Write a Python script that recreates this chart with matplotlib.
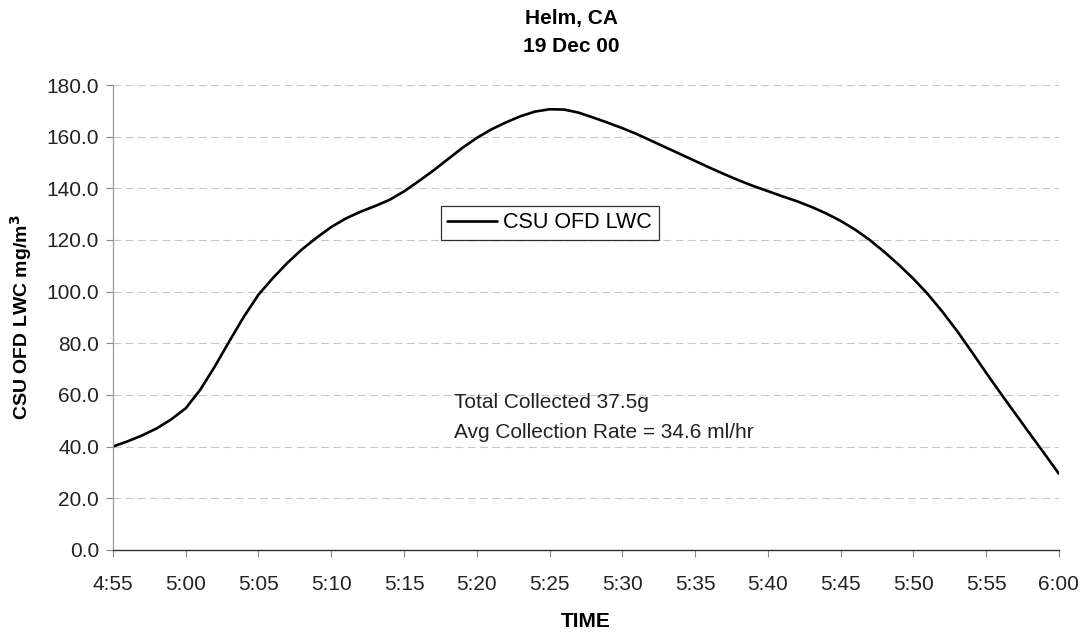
import matplotlib
matplotlib.use("Agg")
import matplotlib.pyplot as plt
import matplotlib.dates as mdates
import pandas as pd

plt.rcParams["font.family"] = ["Liberation Sans", "DejaVu Sans"]

# One-minute liquid water content readings, 4:55 to 6:00
times = pd.date_range("2000-12-19 04:55", "2000-12-19 06:00", freq="1min")
lwc = [
    40.0, 42.0, 44.3, 47.0, 50.5,
    54.8, 62.0, 71.0, 80.8, 90.3,
    98.8, 105.3, 111.2, 116.4, 120.9,
    125.0, 128.3, 130.9, 133.1, 135.5,
    138.8, 142.7, 146.8, 151.2, 155.6,
    159.5, 162.8, 165.5, 167.9, 169.7,
    170.6, 170.5, 169.3, 167.4, 165.4,
    163.3, 161.0, 158.4, 155.8, 153.2,
    150.6, 148.0, 145.5, 143.1, 140.9,
    138.9, 136.9, 135.0, 132.8, 130.3,
    127.4, 124.0, 120.0, 115.4, 110.4,
    105.0, 99.0, 92.2, 84.8, 76.8,
    68.6, 60.6, 52.8, 45.0, 37.3,
    29.5,
]
series_name = "CSU OFD LWC"
title_lines = ["Helm, CA", "19 Dec 00"]
note_lines = ["Total Collected 37.5g", "Avg Collection Rate = 34.6 ml/hr"]
note_time = pd.Timestamp("2000-12-19 05:18:25")
y_ticks = [0, 20, 40, 60, 80, 100, 120, 140, 160, 180]

fig = plt.figure(figsize=(10.86, 6.32), dpi=100)
ax = fig.add_axes([0.104, 0.130, 0.871, 0.7355])

ax.plot(times, lwc, color="black", linewidth=1.9, label=series_name,
        solid_capstyle="round", solid_joinstyle="round")

ax.set_xlim(times[0], times[-1])
ax.set_ylim(0, 180)
ax.set_yticks(y_ticks)
ax.yaxis.set_major_formatter(matplotlib.ticker.FormatStrFormatter("%.1f"))
ax.xaxis.set_major_locator(mdates.MinuteLocator(byminute=range(0, 60, 5)))
ax.xaxis.set_major_formatter(
    matplotlib.ticker.FuncFormatter(
        lambda v, p: f"{mdates.num2date(v).hour}:{mdates.num2date(v).minute:02d}"))

ax.grid(axis="y", color="#c8c8c8", linestyle=(0, (7, 4)), linewidth=0.8)
ax.set_axisbelow(True)
for side in ("top", "right"):
    ax.spines[side].set_visible(False)
ax.spines["left"].set_color("#9a9a9a")
ax.spines["left"].set_linewidth(0.9)
ax.spines["bottom"].set_color("#333333")
ax.spines["bottom"].set_linewidth(1.0)
ax.tick_params(axis="both", labelsize=15, colors="#222222", length=5, width=0.8)
ax.tick_params(axis="x", pad=13, color="#888888")
ax.tick_params(axis="y", pad=5, color="#888888")

ax.set_xlabel("TIME", fontsize=15, fontweight="bold", labelpad=13)
ax.set_ylabel("CSU OFD LWC mg/m$\\mathbf{^3}$", fontsize=14, fontweight="bold",
              labelpad=9)
title = ax.set_title("\n".join(title_lines), fontsize=15, fontweight="bold",
                     linespacing=1.55, pad=24)
title.set_x(0.485)

leg = ax.legend(loc="upper left", bbox_to_anchor=(0.3467, 0.7405),
                borderaxespad=0, fontsize=15.5, frameon=True, fancybox=False,
                edgecolor="black", handlelength=2.3, handletextpad=0.3,
                borderpad=0.3)
leg.get_frame().set_linewidth(0.9)

ax.text(note_time, 56.9, note_lines[0], fontsize=15, va="center", ha="left",
        color="#222222")
ax.text(note_time, 45.3, note_lines[1], fontsize=15, va="center", ha="left",
        color="#222222")

fig.savefig("out.png", dpi=100, facecolor="white")
